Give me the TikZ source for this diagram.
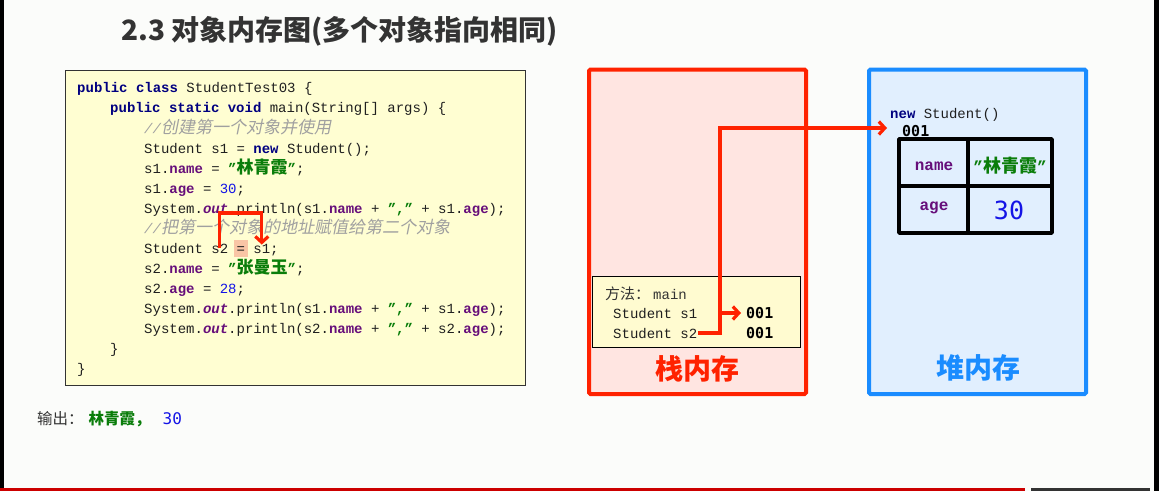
\documentclass[tikz,border=0pt]{standalone}
\usepackage{fontspec}
\usetikzlibrary{arrows.meta}
\newfontfamily\codefont{Liberation Mono}
\newfontfamily\cjk{Noto Sans CJK SC}
\newfontfamily\cjkit{Noto Sans CJK SC}[FakeSlant=0.2]
\newfontfamily\digfont{DejaVu Sans Mono}

\definecolor{kwc}{HTML}{000080}
\definecolor{fldc}{HTML}{660E7A}
\definecolor{strc}{HTML}{0A7D0A}
\definecolor{numc}{HTML}{1414E6}
\definecolor{cmtc}{HTML}{A0A0A0}
\definecolor{codebg}{HTML}{FFFED2}
\definecolor{framebg}{HTML}{FFFBD0}
\definecolor{redc}{HTML}{FF2200}
\definecolor{stackbg}{HTML}{FFE5E1}
\definecolor{heapbg}{HTML}{E1EFFE}
\definecolor{bluec}{HTML}{1A8CFF}
\definecolor{hlc}{HTML}{F9C5A5}
\definecolor{textc}{HTML}{333333}
\definecolor{pagebg}{HTML}{FBFCFA}

% code highlighting helpers
\newcommand\kw[1]{{\color{kwc}\bfseries #1}}
\newcommand\fld[1]{{\color{fldc}\bfseries #1}}
\newcommand\jout[1]{{\color{fldc}\bfseries\itshape #1}}
\newcommand\jnum[1]{{\color{numc}#1}}
\newcommand\jq[1]{{\color{strc}\bfseries ”#1”}}
\newcommand\jstr[1]{{\color{strc}\bfseries ”{\cjk\fontsize{17}{17}\selectfont #1}”}}
\newcommand\jcm[1]{{\color{cmtc}\itshape //{\cjkit\fontsize{17}{17}\selectfont #1}}}

\tikzset{
  code/.style={font={\codefont\fontsize{14}{16}\selectfont}, anchor=base west,
    inner sep=0pt, text=black!88},
  redarr/.style={draw=redc, line width=3.2pt,
    -{Straight Barb[length=6pt,width=13pt]}},
  memlabel/.style={font={\cjk\bfseries\fontsize{28}{28}\selectfont}, inner sep=0pt},
  addr/.style={font={\digfont\bfseries\fontsize{15}{15}\selectfont}, anchor=west,
    inner sep=0pt, text=black},
}

\begin{document}
\begin{tikzpicture}[x=1pt,y=-1pt]
\useasboundingbox (0,0) rectangle (1159,491);
% page
\fill[pagebg] (0,0) rectangle (1159,491);
\fill[black] (0,0) rectangle (4,491);
\fill[black] (1154,0) rectangle (1159,491);
\fill[red!80!black] (0,488) rectangle (1025,491);
\fill[textc] (1031,488) rectangle (1150,491);

% heading
\node[anchor=west, inner sep=0pt, text=textc,
  font={\cjk\bfseries\fontsize{28}{28}\selectfont}] (title) at (121,31)
  {2.3 对象内存图(多个对象指向相同)};

% source listing
\draw[draw=black!80, line width=1.8pt, fill=codebg] (65.5,70.5) rectangle (525.5,385.5);
\node[code] (l1) at (77,92) {\kw{public} \kw{class} StudentTest03 \{};
\node[code] (l2) at (110,112) {\kw{public} \kw{static} \kw{void} main(String[] args) \{};
\node[code] (l3) at (144,133) {\jcm{创建第一个对象并使用}};
\node[code] (l4) at (144,153) {Student s1 = \kw{new} Student();};
\node[code] (l5) at (144,173) {s1.\fld{name} = \jstr{林青霞};};
\node[code] (l6) at (144,193) {s1.\fld{age} = \jnum{30};};
\node[code] (l7) at (144,213) {System.\jout{out}.println(s1.\fld{name} + \jq{,} + s1.\fld{age});};
\node[code] (l8) at (144,233) {\jcm{把第一个对象的地址赋值给第二个对象}};
\node[code] (l9a) at (144,253) {Student};
\node[code] (s2v) at (211.2,253) {s2};
\node[code, fill=hlc, inner xsep=3pt, text height=13pt, text depth=4pt] (eq) at (233.4,253) {=};
\node[code] (s1v) at (253.2,253) {s1};
\node[code] (l9b) at (270,253) {;};
\node[code] (l10) at (144,273) {s2.\fld{name} = \jstr{张曼玉};};
\node[code] (l11) at (144,293) {s2.\fld{age} = \jnum{28};};
\node[code] (l12) at (144,313) {System.\jout{out}.println(s1.\fld{name} + \jq{,} + s1.\fld{age});};
\node[code] (l13) at (144,333) {System.\jout{out}.println(s2.\fld{name} + \jq{,} + s2.\fld{age});};
\node[code] (l14) at (110,353) {\}};
\node[code] (l15) at (77,373) {\}};

% s2 takes the value of s1
\coordinate (codetop) at (0,213);
\draw[redarr] (s2v.center) -- (s2v.center |- codetop)
  -- (s1v.north |- codetop) -- ([yshift=-1pt]s1v.north);

% output
\node[anchor=west, inner sep=0pt] (result) at (37,419)
  {{\cjk\fontsize{15.5}{15.5}\selectfont\color{textc}输出：}\hspace{5pt}{\cjk\bfseries\fontsize{15.5}{15.5}\selectfont\color{strc}林青霞，}\hspace{12pt}{\digfont\fontsize{16}{16}\selectfont\color{numc}30}};

% stack memory
\draw[draw=redc, line width=4pt, fill=stackbg, rounded corners=1.5pt] (589,69.5) rectangle (806,394);
\draw[draw=black, line width=1.5pt, fill=framebg] (592.5,276.5) rectangle (800.5,347.5);
\node[anchor=west, inner sep=0pt, text=textc] (frame) at (605,294)
  {{\cjk\fontsize{15}{15}\selectfont 方法：}\hspace{3pt}{\codefont\fontsize{14}{14}\selectfont main}};
\node[code] (ss1) at (613,318) {Student s1};
\node[code] (ss2) at (613,338) {Student s2};
\node[addr] (v1) at (746,313) {001};
\node[addr] (v2) at (746,333) {001};
\node[memlabel, text=redc] (stacklbl) at (697,369) {栈内存};

% heap memory
\draw[draw=bluec, line width=4pt, fill=heapbg, rounded corners=1.5pt] (869,69.5) rectangle (1086,394);
\node[code, anchor=base west] (newobj) at (890,118) {\kw{new} Student()};
\node[addr] (h001) at (902,131) {001};
\draw[line width=3.5pt, line join=round] (899,139) rectangle (1052,233);
\draw[line width=3.5pt] (899,186) -- (1052,186);
\draw[line width=3.5pt] (968,139) -- (968,233);
\node[inner sep=0pt, font={\codefont\bfseries\fontsize{16}{16}\selectfont}, text=fldc] (fname) at (934,166) {name};
\node[inner sep=0pt, font={\codefont\bfseries\fontsize{16}{16}\selectfont}, text=fldc] (fage) at (934,208) {age};
\node[inner sep=0pt, text=strc, font={\codefont\bfseries\fontsize{16}{16}\selectfont}] (vname) at (1010,166)
  {”{\cjk\fontsize{18}{18}\selectfont 林青霞}”};
\node[inner sep=0pt, text=numc, font={\digfont\fontsize{25}{25}\selectfont}] (vage) at (1009,210) {30};
\node[memlabel, text=bluec] (heaplbl) at (978,368) {堆内存};

% references
\coordinate (jx) at (720,0);
\draw[redarr] ([xshift=1pt]ss2.east |- v2.west) -- (jx |- v2.west) -- (jx |- 0,128)
  -- ([xshift=-15pt]h001.west |- 0,128);
\draw[redarr] (jx |- v1.west) -- ([xshift=-5pt]v1.west);
\end{tikzpicture}
\end{document}
